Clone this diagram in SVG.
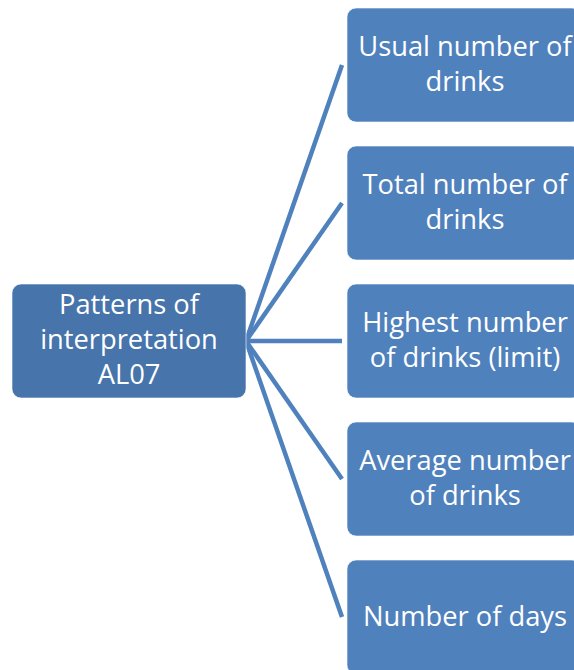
<svg xmlns="http://www.w3.org/2000/svg" width="574" height="670" viewBox="0 0 574 670">
<defs>
<style>
.bg{fill:#ffffff}
.root{fill:#4674AB;stroke:#ffffff;stroke-opacity:0.6;stroke-width:1}
.leaf{fill:#4F81BD;stroke:#ffffff;stroke-opacity:0.6;stroke-width:1}
.conn{stroke:#4F81BD;stroke-width:4.5;fill:none}
.t{font-family:"Open Sans","Noto Sans","Liberation Sans",sans-serif;font-size:27.3px;fill:#ffffff;text-anchor:middle}
</style>
</defs>
<rect class="bg" x="0" y="0" width="574" height="670"/>
<g id="connectors">
<line class="conn" x1="246" y1="341" x2="342" y2="65"/>
<line class="conn" x1="246" y1="341" x2="342" y2="203"/>
<line class="conn" x1="246" y1="341" x2="342" y2="341"/>
<line class="conn" x1="246" y1="341" x2="342" y2="479"/>
<line class="conn" x1="246" y1="341" x2="342" y2="617"/>
</g>
<g id="root">
<rect class="root" x="12" y="284" width="234" height="114" rx="9"/>
<text class="t" x="129" y="314">Patterns of</text>
<text class="t" x="129" y="349">interpretation</text>
<text class="t" x="129" y="384">AL07</text>
</g>
<g id="n1">
<rect class="leaf" x="347" y="8" width="234" height="114" rx="9"/>
<text class="t" x="465" y="56">Usual number of</text>
<text class="t" x="465" y="91">drinks</text>
</g>
<g id="n2">
<rect class="leaf" x="347" y="146" width="234" height="114" rx="9"/>
<text class="t" x="465" y="194">Total number of</text>
<text class="t" x="465" y="229">drinks</text>
</g>
<g id="n3">
<rect class="leaf" x="347" y="284" width="234" height="114" rx="9"/>
<text class="t" x="465" y="332">Highest number</text>
<text class="t" x="465" y="367">of drinks (limit)</text>
</g>
<g id="n4">
<rect class="leaf" x="347" y="422" width="234" height="114" rx="9"/>
<text class="t" x="465" y="470">Average number</text>
<text class="t" x="465" y="505">of drinks</text>
</g>
<g id="n5">
<rect class="leaf" x="347" y="560" width="234" height="114" rx="9"/>
<text class="t" x="465" y="626">Number of days</text>
</g>
</svg>
